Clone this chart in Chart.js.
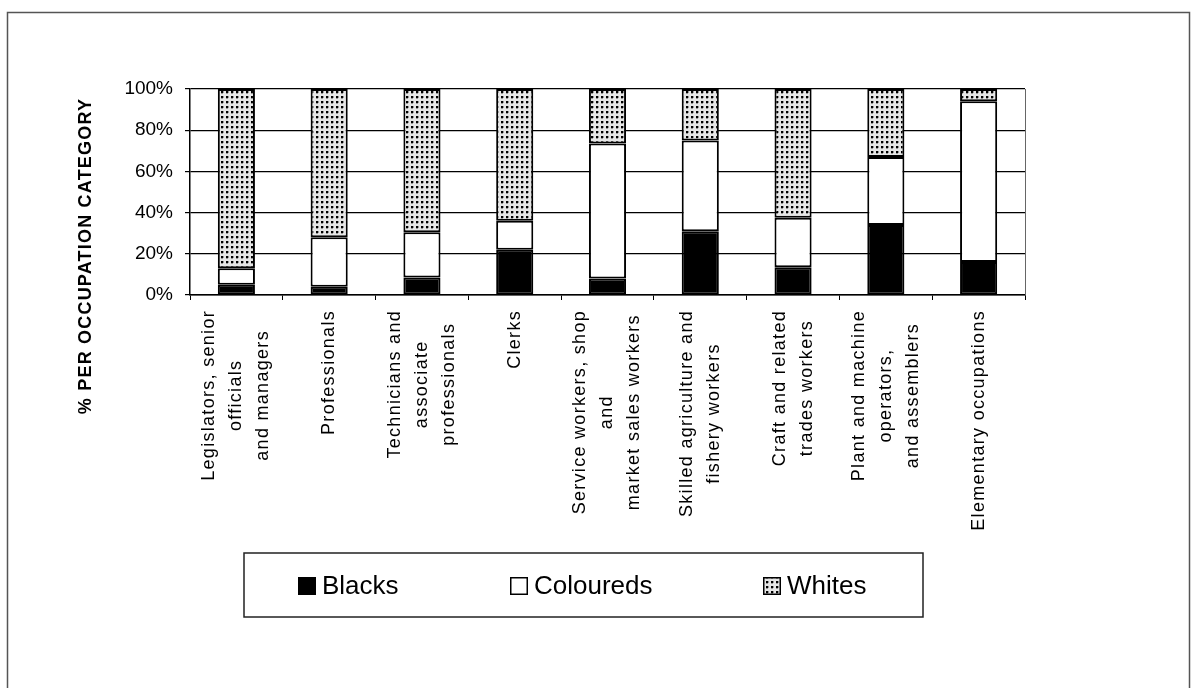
<!DOCTYPE html>
<html>
<head>
<meta charset="utf-8">
<script src="https://cdn.jsdelivr.net/npm/chart.js@4"></script>
<style>
  html, body { margin: 0; padding: 0; background: #fff; }
  canvas { display: block; }
</style>
</head>
<body>
<canvas id="grafico" width="1192" height="688"></canvas>
<script>
const categorias = [
    ['Legislators, senior', 'officials', 'and managers'],
    ['Professionals'],
    ['Technicians and', 'associate', 'professionals'],
    ['Clerks'],
    ['Service workers, shop', 'and', 'market sales workers'],
    ['Skilled agriculture and', 'fishery workers'],
    ['Craft and related', 'trades workers'],
    ['Plant and machine', 'operators,', 'and assemblers'],
    ['Elementary occupations']
];
const negros = [5, 4, 8.5, 22, 8, 31, 13.5, 34, 16];
const mestizos = [8, 24, 22, 14, 65.5, 44, 24, 33, 78];
const blancos = [87, 72, 69.5, 64, 26.5, 25, 62.5, 33, 6];
const marcasY = [0, 20, 40, 60, 80, 100];
const nombresSeries = ['Blacks', 'Coloureds', 'Whites'];

const fuente = '"Liberation Sans", Arial, sans-serif';

// trama de puntos para "Whites"
const crearTrama = () => {
    const c = document.createElement('canvas');
    c.width = 5;
    c.height = 5;
    const t = c.getContext('2d');
    t.fillStyle = '#e6e6e6';
    t.fillRect(0, 0, 5, 5);
    t.fillStyle = '#000';
    t.fillRect(1, 1, 2, 2);
    t.fillStyle = '#9a9a9a';
    t.fillRect(3, 1, 1, 2);
    t.fillRect(1, 3, 2, 1);
    return document.createElement('canvas').getContext('2d').createPattern(c, 'repeat');
};
const trama = crearTrama();

const extras = {
    id: 'extras',
    beforeDraw(chart) {
        const ctx = chart.ctx;
        ctx.save();
        ctx.fillStyle = '#fff';
        ctx.fillRect(0, 0, chart.width, chart.height);
        ctx.strokeStyle = '#555';
        ctx.lineWidth = 1.5;
        ctx.strokeRect(7.5, 12.5, 1182, 700);
        ctx.restore();
    },
    afterDraw(chart) {
        const ctx = chart.ctx;
        const ejeX = chart.scales.x;
        const area = chart.chartArea;
        ctx.save();

        // borde derecho del area
        ctx.strokeStyle = '#666';
        ctx.lineWidth = 1;
        ctx.beginPath();
        ctx.moveTo(area.right + 0.5, area.top);
        ctx.lineTo(area.right + 0.5, area.bottom);
        ctx.stroke();

        // etiquetas del eje x, giradas y centradas
        ctx.font = '18px ' + fuente;
        ctx.letterSpacing = '1.3px';
        ctx.fillStyle = '#000';
        ctx.textAlign = 'center';
        ctx.textBaseline = 'middle';
        categorias.forEach((lineas, i) => {
            const cx = ejeX.getPixelForValue(i);
            const ancho = Math.max(...lineas.map(l => ctx.measureText(l).width));
            const cy = area.bottom + 15 + ancho / 2;
            lineas.forEach((linea, j) => {
                ctx.save();
                ctx.translate(cx + (j - (lineas.length - 1) / 2) * 27, cy);
                ctx.rotate(-Math.PI / 2);
                ctx.fillText(linea, 0, 0);
                ctx.restore();
            });
        });

        // titulo del eje y
        ctx.save();
        ctx.font = 'bold 18px ' + fuente;
        ctx.letterSpacing = '1.2px';
        ctx.translate(86, 256);
        ctx.rotate(-Math.PI / 2);
        ctx.fillText('% PER OCCUPATION CATEGORY', 0, 0);
        ctx.restore();

        // leyenda
        ctx.letterSpacing = '0px';
        ctx.strokeStyle = '#222';
        ctx.lineWidth = 1.5;
        ctx.strokeRect(244, 553, 679, 64);
        const posiciones = [298, 510, 763];
        ctx.font = '26px ' + fuente;
        ctx.textAlign = 'left';
        chart.data.datasets.forEach((ds, i) => {
            const x = posiciones[i];
            ctx.fillStyle = ds.backgroundColor;
            ctx.fillRect(x, 577, 18, 18);
            ctx.strokeStyle = '#000';
            ctx.lineWidth = 1.5;
            ctx.strokeRect(x + 0.75, 577.75, 16.5, 16.5);
            ctx.fillStyle = '#000';
            ctx.fillText(ds.label, x + 24, 587);
        });
        ctx.restore();
    }
};

const ctx = document.querySelector('#grafico').getContext('2d');
const miGrafico = new Chart(ctx, {
    type: 'bar',
    data: {
        labels: categorias.map(l => l.join(' ')),
        datasets: [
            { label: nombresSeries[0], data: negros, backgroundColor: '#000' },
            { label: nombresSeries[1], data: mestizos, backgroundColor: '#fff' },
            { label: nombresSeries[2], data: blancos, backgroundColor: trama }
        ].map(d => ({
            ...d,
            borderColor: '#000',
            borderWidth: 2,
            borderSkipped: false,
            barPercentage: 0.4,
            categoryPercentage: 1
        }))
    },
    options: {
        responsive: false,
        animation: false,
        layout: { padding: { top: 89, right: 167, left: 0, bottom: 0 } },
        plugins: {
            legend: { display: false },
            tooltip: { enabled: false }
        },
        scales: {
            x: {
                stacked: true,
                afterFit: (s) => { s.height = 393; },
                ticks: { display: false },
                grid: { drawOnChartArea: false, color: '#000', tickLength: 5, offset: true },
                border: { color: '#000', width: 1.5 }
            },
            y: {
                stacked: true,
                min: 0,
                max: 100,
                afterFit: (s) => { s.width = 190; },
                afterBuildTicks: (s) => { s.ticks = marcasY.map(v => ({ value: v })); },
                ticks: {
                    callback: (v) => v + '%',
                    color: '#000',
                    padding: 12,
                    font: { family: fuente, size: 19 }
                },
                grid: { color: '#000', lineWidth: 1.2, tickLength: 5 },
                border: { color: '#000', width: 1.5 }
            }
        }
    },
    plugins: [extras]
});
</script>
</body>
</html>
